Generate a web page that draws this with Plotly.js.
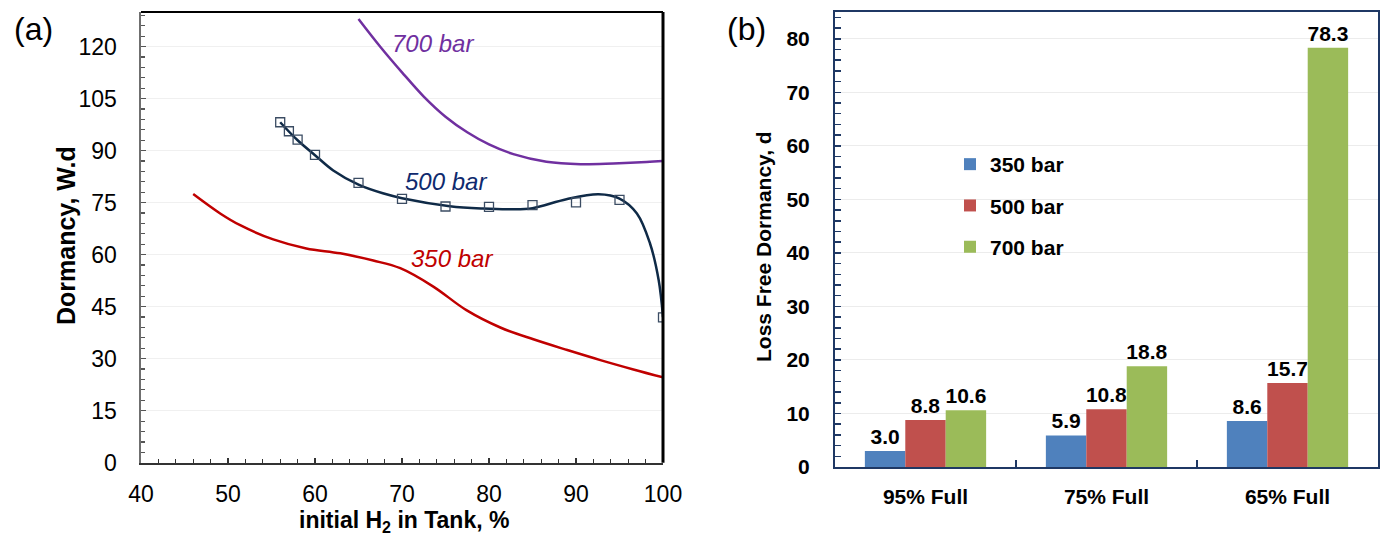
<!DOCTYPE html>
<html>
<head>
<meta charset="utf-8">
<script src="https://cdn.plot.ly/plotly-3.0.1.min.js"></script>
<style>html,body{margin:0;padding:0;background:#fff;}#chart{width:1381px;height:535px;}</style>
</head>
<body>
<div id="chart"></div>
<script>
// ---- Panel (a): dormancy vs initial H2 ----
const x700 = [65, 67.5, 70, 72.5, 75, 77.5, 80, 82.8, 86.6, 90.5, 94.3, 98.1, 100];
const y700 = [128, 120, 112.6, 105.6, 99.8, 95.3, 91.8, 89, 86.8, 86.1, 86.3, 86.7, 87];

const x500pts = [56, 57, 58, 60, 65, 70, 75, 80, 85, 90, 95, 100];
const y500pts = [98.2, 95.6, 93.2, 88.8, 80.7, 76.1, 73.9, 73.8, 74.3, 75.1, 75.8, 41.9];

const x500fit = [56, 58, 60, 62.1, 65, 67.8, 70, 75.5, 79.3, 82.5, 85, 88.9, 92.6, 95, 97, 98.5, 99.5, 100];
const y500fit = [98.2, 93.0, 88.7, 84.3, 80.2, 77.7, 76.3, 74.0, 73.3, 73.1, 73.4, 76.0, 77.4, 76.2, 71.9, 63.3, 52.7, 42];

const x350 = [46, 49.1, 51.4, 55.2, 59, 62.9, 66.7, 69.8, 73.6, 77.4, 81.3, 85.1, 89, 92.8, 96.6, 100];
const y350 = [77.5, 71.9, 68.5, 64.4, 61.8, 60.4, 58.3, 56.1, 50.8, 44.0, 39.0, 35.6, 32.5, 29.6, 26.9, 24.6];

const curveLabels = ['700 bar', '500 bar', '350 bar'];

// ---- Panel (b): loss free dormancy ----
const categories = ['95% Full', '75% Full', '65% Full'];
const v350 = [3.0, 5.9, 8.6];
const v500 = [8.8, 10.8, 15.7];
const v700 = [10.6, 18.8, 78.3];
const seriesNames = ['350 bar', '500 bar', '700 bar'];

const FONT = 'Arial, "Liberation Sans", sans-serif';
const W = 1381, H = 535;
const px = v => v / W;
const py = v => 1 - v / H;

const dA = [px(141), px(663)];
const dAy = [py(462.7), py(12)];
const dB = [px(835), px(1378)];
const dBy = [py(467), py(12)];

const barColors = ['#4F81BD', '#C0504D', '#9BBB59'];
const barVals = [v350, v500, v700];

const traces = [
  {x: x700, y: y700, type: 'scatter', mode: 'lines', line: {color: '#7030A0', width: 2.5, shape: 'spline'},
   showlegend: false, xaxis: 'x', yaxis: 'y', hoverinfo: 'skip'},
  {x: x500fit, y: y500fit, type: 'scatter', mode: 'lines', line: {color: '#0F2A47', width: 2.5, shape: 'spline'},
   showlegend: false, xaxis: 'x', yaxis: 'y', hoverinfo: 'skip'},
  {x: x500pts, y: y500pts, type: 'scatter', mode: 'markers',
   marker: {symbol: 'square-open', size: 9, color: '#3B4C63', line: {width: 1.3}},
   showlegend: false, xaxis: 'x', yaxis: 'y'},
  {x: x350, y: y350, type: 'scatter', mode: 'lines', line: {color: '#C00000', width: 2.5, shape: 'spline'},
   showlegend: false, xaxis: 'x', yaxis: 'y', hoverinfo: 'skip'}
];

seriesNames.forEach((name, i) => {
  traces.push({
    x: categories, y: barVals[i], type: 'bar', name: name,
    marker: {color: barColors[i]},
    texttemplate: '%{y:.1f}', textposition: 'outside', constraintext: 'none', cliponaxis: false,
    textfont: {family: FONT, size: 21, color: '#000', weight: 'bold'},
    xaxis: 'x2', yaxis: 'y2', legendgroup: 'g' + i
  });
});

const labelPos = [[73.6, 120.8, '#7030A0'], [75.0, 81.0, '#0F2A6E'], [75.7, 59.0, '#C00000']];

const annotations = curveLabels.map((t, i) => ({
  x: labelPos[i][0], y: labelPos[i][1], xref: 'x', yref: 'y', text: '<i>' + t + '</i>', showarrow: false,
  xanchor: 'center', yanchor: 'middle',
  font: {family: FONT, size: 24, color: labelPos[i][2]}
}));

annotations.push(
  {x: px(33), y: py(29), xref: 'paper', yref: 'paper', text: '(a)', showarrow: false, xanchor: 'center', yanchor: 'middle',
   font: {family: FONT, size: 32, color: '#000'}},
  {x: px(746), y: py(29), xref: 'paper', yref: 'paper', text: '(b)', showarrow: false, xanchor: 'center', yanchor: 'middle',
   font: {family: FONT, size: 32, color: '#000'}},
  {x: px(66), y: py(236), xref: 'paper', yref: 'paper', text: '<b>Dormancy, W.d</b>', textangle: -90, showarrow: false,
   xanchor: 'center', yanchor: 'middle', font: {family: FONT, size: 25, color: '#000'}},
  {x: px(404), y: py(521), xref: 'paper', yref: 'paper', text: '<b>initial H<sub>2</sub> in Tank, %</b>', showarrow: false,
   xanchor: 'center', yanchor: 'middle', font: {family: FONT, size: 23, color: '#000'}},
  {x: px(764), y: py(246), xref: 'paper', yref: 'paper', text: '<b>Loss Free Dormancy, d</b>', textangle: -90, showarrow: false,
   xanchor: 'center', yanchor: 'middle', font: {family: FONT, size: 21, color: '#000'}}
);

const layout = {
  width: W, height: H,
  margin: {l: 0, r: 0, t: 0, b: 0},
  paper_bgcolor: '#fff', plot_bgcolor: '#fff',
  font: {family: FONT, color: '#000'},
  showlegend: true,
  barmode: 'group', bargap: 0.33, bargroupgap: 0,
  legend: {x: px(950), y: py(144), xanchor: 'left', yanchor: 'top', bgcolor: 'rgba(0,0,0,0)',
           font: {family: FONT, size: 21, color: '#000', weight: 'bold'}, tracegroupgap: 11},
  xaxis: {domain: dA, range: [40, 100], dtick: 10, tick0: 40, ticks: 'inside', ticklen: 5, tickwidth: 1.2, tickcolor: '#333',
          minor: {dtick: 2, ticks: 'inside', ticklen: 4, tickcolor: '#333', showgrid: false},
          showline: true, linecolor: '#333', linewidth: 2, showgrid: false, zeroline: false,
          tickfont: {family: FONT, size: 23, color: '#000'}, ticklabelstandoff: 10, anchor: 'y', fixedrange: true},
  yaxis: {domain: dAy, range: [0, 130], dtick: 15, tick0: 0, ticks: 'inside', ticklen: 5, tickwidth: 1.2, tickcolor: '#555',
          minor: {dtick: 3, ticks: 'inside', ticklen: 4, tickcolor: '#555', showgrid: false},
          showline: true, linecolor: '#6f6f6f', linewidth: 2.5, showgrid: true, gridcolor: '#f0f0f0', gridwidth: 1, zeroline: false,
          tickfont: {family: FONT, size: 23, color: '#000'}, ticklabelstandoff: 17, anchor: 'x', fixedrange: true},
  xaxis2: {domain: dB, type: 'category', tickson: 'boundaries', ticks: 'inside', ticklen: 7, tickwidth: 2, tickcolor: '#1F3864',
           showline: true, mirror: true, linecolor: '#1F3864', linewidth: 2, showgrid: false,
           tickfont: {family: FONT, size: 21, color: '#000', weight: 'bold'}, ticklabelstandoff: 10, anchor: 'y2', fixedrange: true},
  yaxis2: {domain: dBy, range: [0, 85], dtick: 10, tick0: 0, ticks: 'inside', ticklen: 6, tickwidth: 1.5, tickcolor: '#1F3864',
           minor: {dtick: 2, ticks: 'inside', ticklen: 6, tickcolor: '#1F3864', showgrid: false},
           showline: true, mirror: true, linecolor: '#1F3864', linewidth: 2, showgrid: true, gridcolor: '#ececec', zeroline: false,
           tickfont: {family: FONT, size: 21, color: '#000', weight: 'bold'}, ticklabelstandoff: 19, anchor: 'x2', fixedrange: true},
  shapes: [
    {type: 'line', xref: 'paper', yref: 'paper', x0: dA[0], x1: dA[1], y0: dAy[1], y1: dAy[1], line: {color: '#000', width: 2}},
    {type: 'line', xref: 'paper', yref: 'paper', x0: dA[1], x1: dA[1], y0: dAy[0], y1: dAy[1], line: {color: '#000', width: 3}}
  ],
  annotations: annotations
};

Plotly.newPlot('chart', traces, layout, {displayModeBar: false, staticPlot: true});
</script>
</body>
</html>
